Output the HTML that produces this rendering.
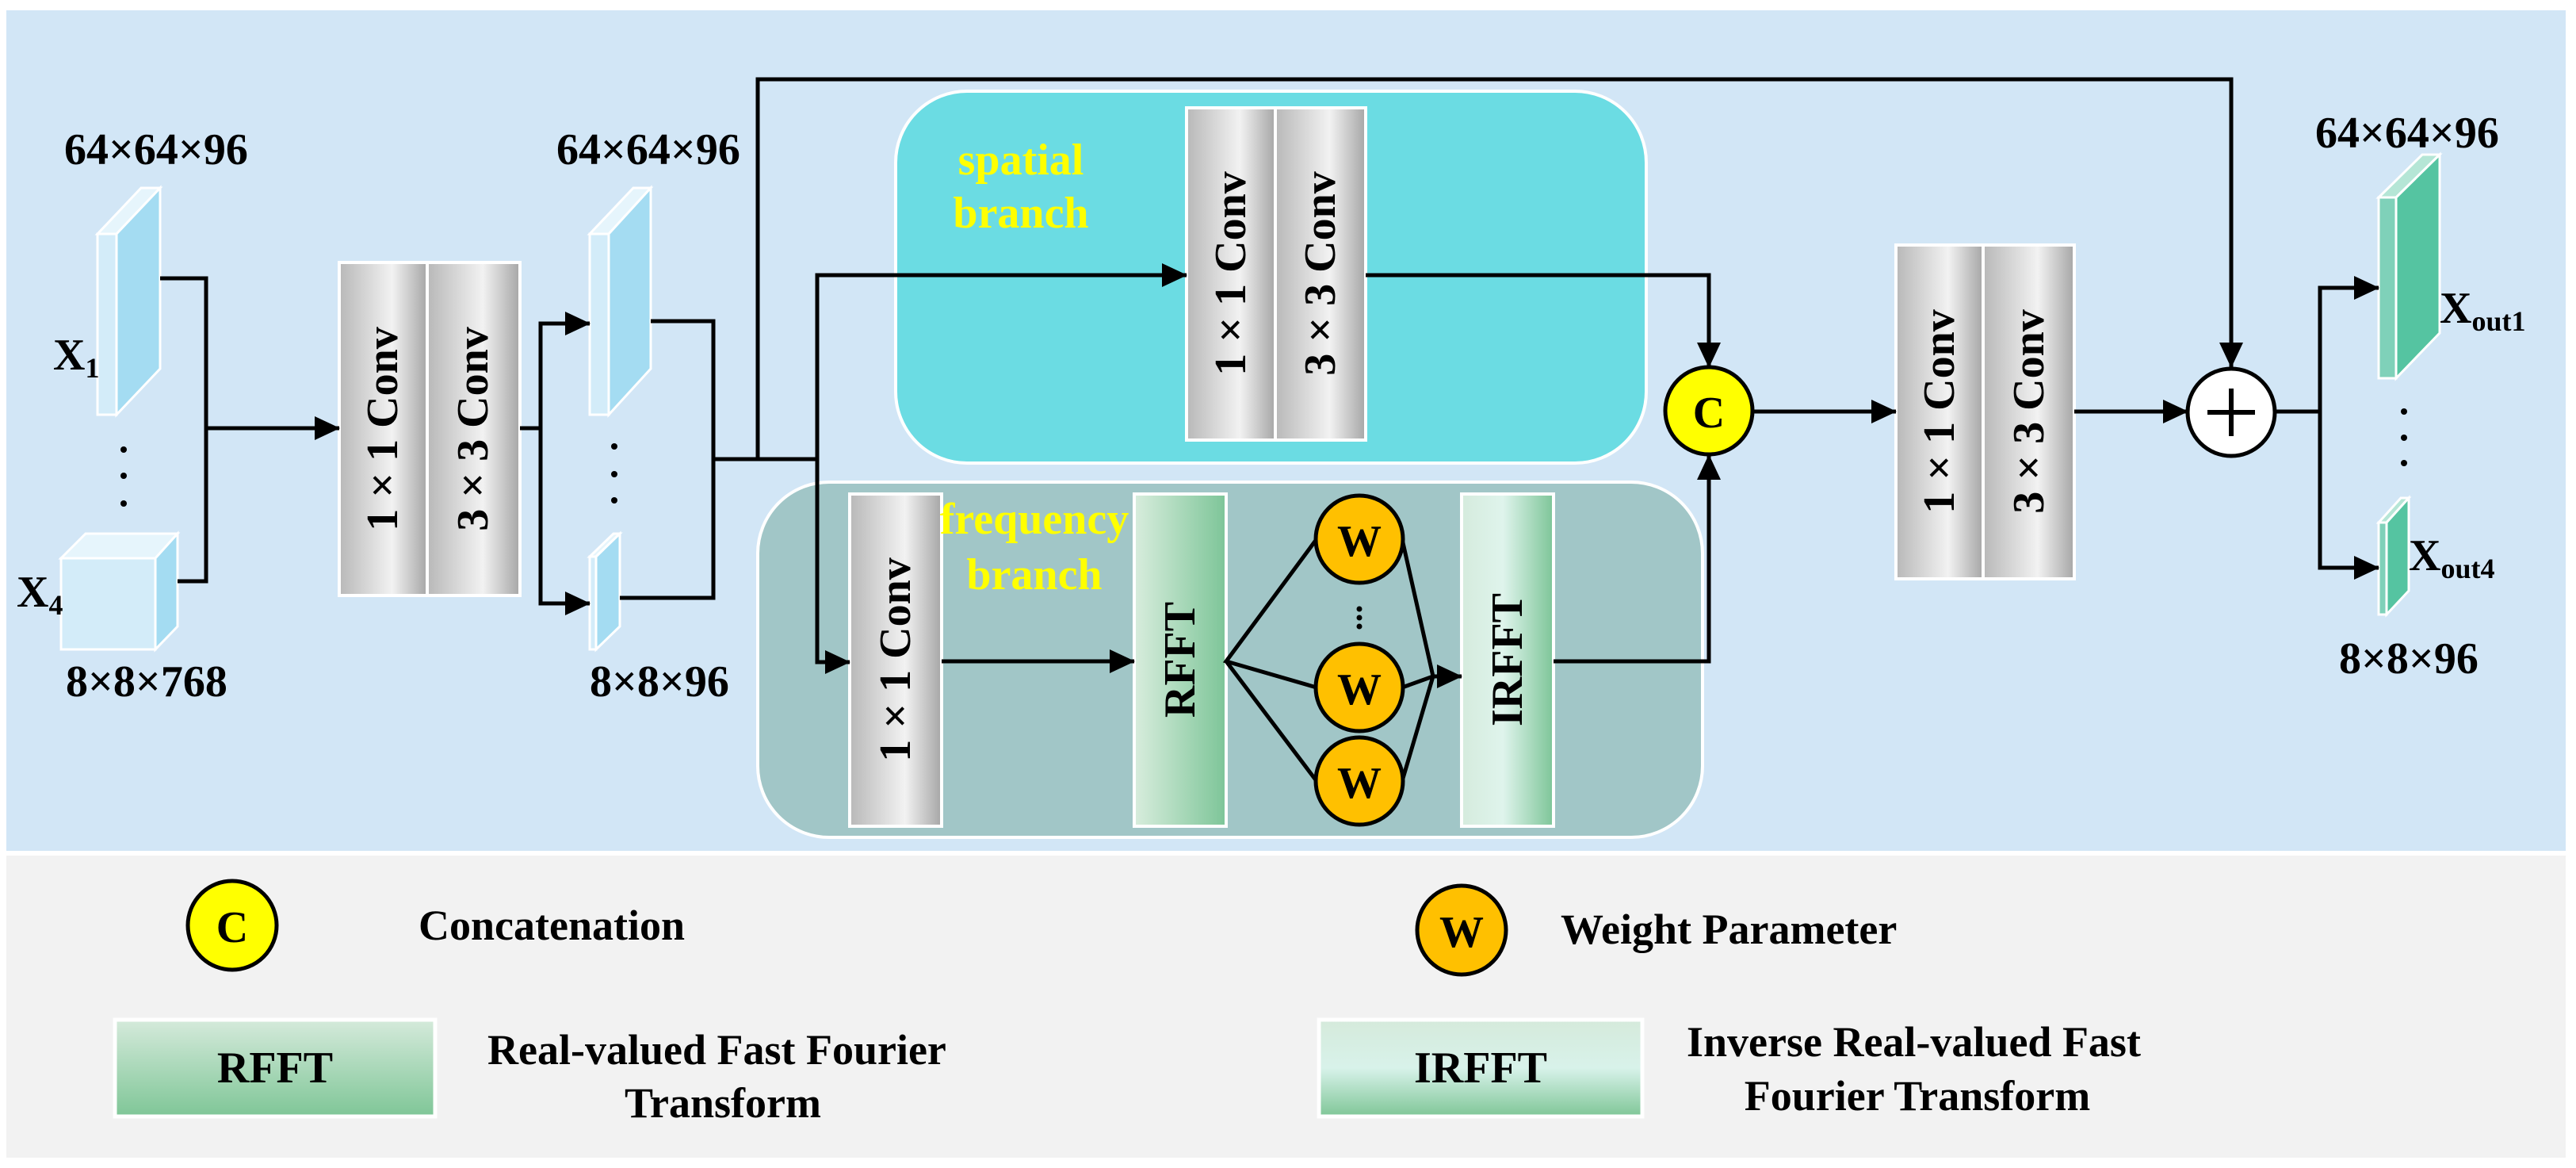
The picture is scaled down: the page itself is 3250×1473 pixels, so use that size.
<!DOCTYPE html>
<html><head><meta charset="utf-8"><style>
html,body{margin:0;padding:0;background:#fff}
svg{display:block}
svg text{font-family:"Liberation Serif","DejaVu Serif",serif !important;font-weight:bold}
</style></head><body>
<svg width="3250" height="1473" viewBox="0 0 3250 1473" xmlns="http://www.w3.org/2000/svg" font-family="Liberation Serif, DejaVu Serif, serif" font-weight="bold">
<defs>
<marker id="a" markerWidth="32" markerHeight="30" refX="31" refY="15" orient="auto" markerUnits="userSpaceOnUse"><path d="M0,0 L32,15 L0,30z" fill="#000"/></marker>
<linearGradient id="g" x1="0" y1="0" x2="1" y2="0"><stop offset="0" stop-color="#b8b8b8"/><stop offset="0.6" stop-color="#f2f2f2"/><stop offset="1" stop-color="#a6a6a6"/></linearGradient>
<linearGradient id="rf" x1="0" y1="0" x2="1" y2="0"><stop offset="0" stop-color="#d8eddd"/><stop offset="1" stop-color="#7dc598"/></linearGradient>
<linearGradient id="irf" x1="0" y1="0" x2="1" y2="0"><stop offset="0" stop-color="#d5ebdd"/><stop offset="0.45" stop-color="#dff4ec"/><stop offset="1" stop-color="#7dc598"/></linearGradient>
<linearGradient id="rfv" x1="0" y1="0" x2="0" y2="1"><stop offset="0" stop-color="#d5eadb"/><stop offset="1" stop-color="#7fc697"/></linearGradient>
<linearGradient id="irfv" x1="0" y1="0" x2="0" y2="1"><stop offset="0" stop-color="#d5eadb"/><stop offset="0.5" stop-color="#d8f2ea"/><stop offset="1" stop-color="#7fc697"/></linearGradient>
</defs>
<rect x="8" y="13" width="3229" height="1060" fill="#d2e6f6"/>
<rect x="8" y="1079" width="3229" height="381" fill="#f2f2f2"/>

<rect x="1130" y="115" width="947" height="469" rx="90" fill="#6bdce3" stroke="#fff" stroke-width="4"/>
<rect x="956" y="608" width="1192" height="448" rx="90" fill="#a1c6c7" stroke="#fff" stroke-width="4"/>

<g stroke="#fff" stroke-width="3">
<polygon points="123,295 178,237 202,237 147,295" fill="#e6f5fc"/>
<polygon points="147,295 202,237 202,465 147,523" fill="#a4dcf2"/>
<rect x="123" y="295" width="24" height="228" fill="#d3ecf9"/>
<polygon points="77,704 108,673 224,673 196,704" fill="#e6f5fc"/>
<polygon points="196,704 224,673 224,790 196,819" fill="#a4dcf2"/>
<rect x="77" y="704" width="119" height="115" fill="#d3ecf9"/>
<polygon points="744,295 799,237 821,237 768,295" fill="#e6f5fc"/>
<polygon points="768,295 821,237 821,465 768,523" fill="#a4dcf2"/>
<rect x="744" y="295" width="24" height="228" fill="#d3ecf9"/>
<polygon points="744,702 774,673 782,673 752,702" fill="#e6f5fc"/>
<polygon points="752,702 782,673 782,790 752,819" fill="#a4dcf2"/>
<rect x="744" y="702" width="8" height="117" fill="#d3ecf9"/>
<polygon points="3001,249 3056,195 3078,195 3023,249" fill="#b5e6d6"/>
<polygon points="3023,249 3078,195 3078,420 3023,477" fill="#55c4a1"/>
<rect x="3001" y="249" width="22" height="228" fill="#7fd1b9"/>
<polygon points="3001,659 3029,628 3039,628 3011,659" fill="#b5e6d6"/>
<polygon points="3011,659 3039,628 3039,745 3011,775" fill="#55c4a1"/>
<rect x="3001" y="659" width="10" height="116" fill="#7fd1b9"/>
</g>

<g stroke="#fff" stroke-width="4">
<rect x="428" y="331" width="111" height="420" fill="url(#g)"/><rect x="539" y="331" width="117" height="420" fill="url(#g)"/>
<rect x="1497" y="136" width="112" height="419" fill="url(#g)"/><rect x="1609" y="136" width="114" height="419" fill="url(#g)"/>
<rect x="2392" y="309" width="110" height="421" fill="url(#g)"/><rect x="2502" y="309" width="115" height="421" fill="url(#g)"/>
<rect x="1072" y="623" width="116" height="419" fill="url(#g)"/>
<rect x="1431" y="623" width="116" height="419" fill="url(#rf)"/>
<rect x="1844" y="623" width="116" height="419" fill="url(#irf)"/>
</g>

<g fill="none" stroke="#000" stroke-width="5">
<path d="M202,351 H260 V733 H224"/>
<path d="M260,540 H428" marker-end="url(#a)"/>
<path d="M656,540 H682 V408 H744" marker-end="url(#a)"/>
<path d="M682,540 V761 H744" marker-end="url(#a)"/>
<path d="M821,405 H900 V754 H782"/>
<path d="M900,579 H1031"/>
<path d="M956,579 V100 H2815 V463" marker-end="url(#a)"/>
<path d="M1031,579 V347 H1497" marker-end="url(#a)"/>
<path d="M1031,579 V835 H1072" marker-end="url(#a)"/>
<path d="M1723,347 H2156 V463" marker-end="url(#a)"/>
<path d="M1960,834 H2156 V574" marker-end="url(#a)"/>
<path d="M1188,834 H1431" marker-end="url(#a)"/>
<path d="M1661,680 L1547,834 L1661,867 M1547,834 L1661,985"/>
<path d="M1769,680 L1808,853 L1769,985 M1769,867 L1808,853"/>
<path d="M1808,853 H1844" marker-end="url(#a)"/>
<path d="M2211,519 H2392" marker-end="url(#a)"/>
<path d="M2617,519 H2760" marker-end="url(#a)"/>
<path d="M2870,519 H2927"/>
<path d="M2927,519 V363 H3001" marker-end="url(#a)"/>
<path d="M2927,519 V716 H3001" marker-end="url(#a)"/>
</g>

<g stroke="#000" stroke-width="5">
<circle cx="2156" cy="518" r="55" fill="#ffff00"/>
<circle cx="2815" cy="520" r="55" fill="#fff"/>
<circle cx="1715" cy="680" r="55" fill="#ffc000"/>
<circle cx="1715" cy="867" r="55" fill="#ffc000"/>
<circle cx="1715" cy="985" r="55" fill="#ffc000"/>
<path d="M2785,520 H2845 M2815,490 V550" stroke-width="6"/>
<circle cx="293" cy="1167" r="56" fill="#ffff00"/>
<circle cx="1844" cy="1173" r="56" fill="#ffc000"/>
</g>
<rect x="145" y="1286" width="404" height="122" fill="url(#rfv)" stroke="#fff" stroke-width="5"/>
<rect x="1664" y="1286" width="408" height="122" fill="url(#irfv)" stroke="#fff" stroke-width="5"/>

<g fill="#000">
<circle cx="156" cy="567" r="4"/><circle cx="156" cy="600" r="4"/><circle cx="156" cy="635" r="4"/>
<circle cx="775" cy="563" r="4"/><circle cx="775" cy="598" r="4"/><circle cx="775" cy="631" r="4"/>
<circle cx="3033" cy="519" r="4"/><circle cx="3033" cy="552" r="4"/><circle cx="3033" cy="584" r="4"/>
<circle cx="1715" cy="768" r="3.5"/><circle cx="1715" cy="779" r="3.5"/><circle cx="1715" cy="790" r="3.5"/>
</g>

<g font-size="56" fill="#000">
<text x="81" y="207">64×64×96</text>
<text x="67" y="466">X<tspan font-size="36" dy="10">1</tspan></text>
<text x="21" y="765">X<tspan font-size="36" dy="10">4</tspan></text>
<text x="83" y="878">8×8×768</text>
<text x="702" y="207">64×64×96</text>
<text x="744" y="878">8×8×96</text>
<text x="2921" y="186">64×64×96</text>
<text x="2951" y="849">8×8×96</text>
<text x="3078" y="407">X<tspan font-size="36" dy="10">out1</tspan></text>
<text x="3039" y="719">X<tspan font-size="36" dy="10">out4</tspan></text>
</g>
<g font-size="56" fill="#ffff00" text-anchor="middle">
<text x="1288" y="220">spatial</text><text x="1288" y="287">branch</text>
<text x="1305" y="673">frequency</text><text x="1305" y="743">branch</text>
</g>
<g font-size="56" fill="#000" text-anchor="middle" dominant-baseline="central">
<text transform="translate(483,541) rotate(-90)">1 × 1 Conv</text>
<text transform="translate(597,541) rotate(-90)">3 × 3 Conv</text>
<text transform="translate(1553,345) rotate(-90)">1 × 1 Conv</text>
<text transform="translate(1666,345) rotate(-90)">3 × 3 Conv</text>
<text transform="translate(2447,519) rotate(-90)">1 × 1 Conv</text>
<text transform="translate(2560,519) rotate(-90)">3 × 3 Conv</text>
<text transform="translate(1130,832) rotate(-90)">1 × 1 Conv</text>
<text transform="translate(1489,832) rotate(-90)">RFFT</text>
<text transform="translate(1902,832) rotate(-90)">IRFFT</text>
<text x="2156" y="521">C</text>
<text x="1715" y="683">W</text><text x="1715" y="870">W</text><text x="1715" y="988">W</text>
<text x="293" y="1170">C</text>
<text x="1844" y="1176">W</text>
<text x="347" y="1347">RFFT</text>
<text x="1868" y="1347">IRFFT</text>
</g>
<g font-size="54" fill="#000">
<text x="528" y="1185">Concatenation</text>
<text x="1969" y="1190">Weight Parameter</text>
<text x="615" y="1342">Real-valued Fast Fourier</text>
<text x="912" y="1409" text-anchor="middle">Transform</text>
<text x="2128" y="1332">Inverse Real-valued Fast</text>
<text x="2419" y="1400" text-anchor="middle">Fourier Transform</text>
</g>
</svg>
</body></html>
